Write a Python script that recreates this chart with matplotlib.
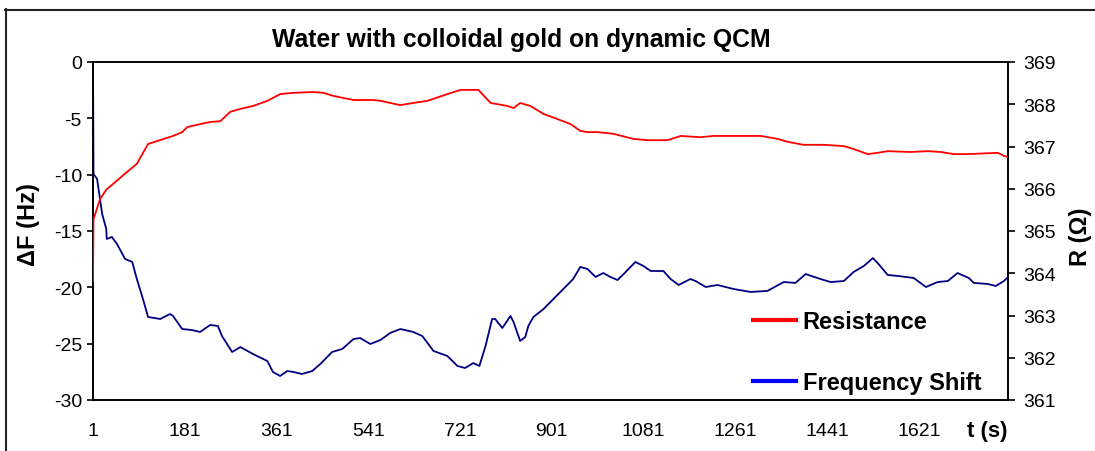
import matplotlib
matplotlib.use("Agg")
import matplotlib.pyplot as plt
from matplotlib.lines import Line2D

plt.rcParams['font.family'] = ['Liberation Sans', 'DejaVu Sans']

# ---- data ----
t_res = [1, 2, 15, 28, 40, 68, 87, 109, 127, 158, 176, 186, 211, 231, 251, 270, 290, 315,
         343, 368, 394, 433, 453, 472, 512, 551, 565, 604, 629, 657, 696, 722, 757, 781,
         814, 826, 839, 859, 885, 912, 938, 957, 971, 991, 1022, 1061, 1089, 1128, 1154,
         1193, 1218, 1271, 1311, 1344, 1364, 1395, 1434, 1474, 1493, 1521, 1540, 1560,
         1605, 1639, 1664, 1690, 1717, 1776, 1788, 1796]
resistance = [363.82, 365.28, 365.76, 365.99, 366.11, 366.40, 366.59, 367.06, 367.13, 367.25,
              367.34, 367.46, 367.53, 367.58, 367.60, 367.82, 367.89, 367.96, 368.08, 368.24,
              368.27, 368.29, 368.27, 368.20, 368.10, 368.10, 368.08, 367.98, 368.03, 368.08,
              368.24, 368.34, 368.34, 368.03, 367.96, 367.91, 368.03, 367.96, 367.77, 367.65,
              367.53, 367.37, 367.34, 367.34, 367.30, 367.18, 367.15, 367.15, 367.25, 367.22,
              367.25, 367.25, 367.25, 367.18, 367.11, 367.04, 367.04, 367.01, 366.94, 366.82,
              366.85, 366.89, 366.87, 366.89, 366.87, 366.82, 366.82, 366.85, 366.78, 366.75]

t_freq = [1, 2, 9, 19, 27, 28, 38, 48, 64, 78, 87, 99, 109, 133, 152, 158, 176, 195, 211, 231,
          246, 254, 274, 290, 315, 343, 354, 368, 382, 394, 411, 431, 447, 470, 490, 512, 525,
          545, 565, 584, 604, 629, 647, 669, 696, 716, 731, 747, 759, 771, 784, 790, 804, 820,
          826, 839, 849, 855, 865, 885, 912, 943, 957, 971, 987, 1002, 1016, 1030, 1042, 1065,
          1081, 1095, 1120, 1134, 1150, 1173, 1183, 1203, 1226, 1258, 1291, 1324, 1356, 1379,
          1399, 1428, 1448, 1474, 1493, 1513, 1531, 1542, 1560, 1580, 1611, 1635, 1658, 1678,
          1697, 1719, 1729, 1756, 1772, 1788, 1796]
freq_shift = [0.0, -9.94, -10.38, -13.49, -14.82, -15.71, -15.53, -16.15, -17.48, -17.75, -19.26,
              -21.03, -22.63, -22.81, -22.37, -22.54, -23.70, -23.79, -23.96, -23.34, -23.43,
              -24.32, -25.74, -25.30, -25.92, -26.54, -27.51, -27.87, -27.43, -27.51, -27.69,
              -27.43, -26.80, -25.74, -25.47, -24.59, -24.50, -25.03, -24.67, -24.05, -23.70,
              -23.96, -24.32, -25.65, -26.09, -26.98, -27.16, -26.72, -26.98, -25.21, -22.81,
              -22.81, -23.61, -22.54, -23.08, -24.76, -24.41, -23.43, -22.63, -21.92, -20.68,
              -19.26, -18.19, -18.37, -19.08, -18.73, -19.08, -19.35, -18.82, -17.75, -18.11,
              -18.55, -18.55, -19.26, -19.79, -19.26, -19.44, -19.97, -19.79, -20.15, -20.41,
              -20.32, -19.53, -19.61, -18.82, -19.26, -19.53, -19.44, -18.64, -18.11, -17.40,
              -17.93, -18.90, -18.99, -19.17, -19.97, -19.53, -19.44, -18.73, -19.17, -19.61,
              -19.70, -19.88, -19.44, -19.10]

x_ticks = [1, 181, 361, 541, 721, 901, 1081, 1261, 1441, 1621]
left_ticks = [0, -5, -10, -15, -20, -25, -30]
right_ticks = [361, 362, 363, 364, 365, 366, 367, 368, 369]

title = "Water with colloidal gold on dynamic QCM"

# ---- figure ----
W, H = 1095, 452
fig = plt.figure(figsize=(W / 100, H / 100), dpi=100)
ax = fig.add_axes([93 / W, 1 - 401 / H, (1008 - 93) / W, (401 - 63) / H])
ax2 = ax.twinx()

ax.plot(t_freq, freq_shift, color='#000080', lw=1.3, zorder=3)
ax2.plot(t_res, resistance, color='#ff0000', lw=1.3, zorder=3)

ax.set_xlim(1, 1796)
ax.set_ylim(-30, 0)
ax2.set_ylim(361, 369)

ax.set_xticks(x_ticks)
ax.set_xticklabels([str(v) for v in x_ticks])
ax.set_yticks(left_ticks)
ax.set_yticklabels([str(v) for v in left_ticks])
ax2.set_yticks(right_ticks)
ax2.set_yticklabels([str(v) for v in right_ticks])

for a in (ax, ax2):
    for s in a.spines.values():
        s.set_linewidth(1.2)
        s.set_color('black')

ax.tick_params(axis='x', length=0, pad=16, labelsize=14)
ax.tick_params(axis='y', direction='out', length=4, width=1.2, pad=4, labelsize=14)
ax2.tick_params(axis='y', direction='out', length=5, width=1.2, pad=6, labelsize=14)

fig.text(28 / W, 1 - 225 / H, "ΔF (Hz)", rotation=90, ha='center', va='center',
         fontsize=17, fontweight='bold')
fig.text(1081 / W, 1 - 237 / H, "R (Ω)", rotation=90, ha='center', va='center',
         fontsize=17, fontweight='bold')
fig.text(987 / W, 1 - 432 / H, "t (s)", ha='center', va='center',
         fontsize=16, fontweight='bold')
fig.text(521 / W, 1 - 40 / H, title, ha='center', va='center',
         fontsize=17.8, fontweight='bold')

handles = [Line2D([], [], color='#ff0000', lw=3), Line2D([], [], color='#0000ff', lw=3)]
leg = ax2.legend(handles, ["Resistance", "Frequency Shift"], loc='upper left',
                 bbox_to_anchor=(753 / W, 1 - 311 / H), bbox_transform=fig.transFigure,
                 frameon=False, prop={'weight': 'bold', 'size': 17},
                 handlelength=1.8, handletextpad=0.3, labelspacing=1.6,
                 borderpad=0, borderaxespad=0)

# outer chart frame
fig.add_artist(Line2D([5.5 / W, 5.5 / W], [0, 1 - 10 / H], color='#222222', lw=1.5,
                      transform=fig.transFigure))
fig.add_artist(Line2D([5 / W, 1], [1 - 10.5 / H, 1 - 10.5 / H], color='#222222', lw=1.5,
                      transform=fig.transFigure))

fig.savefig("out.png", dpi=100)
